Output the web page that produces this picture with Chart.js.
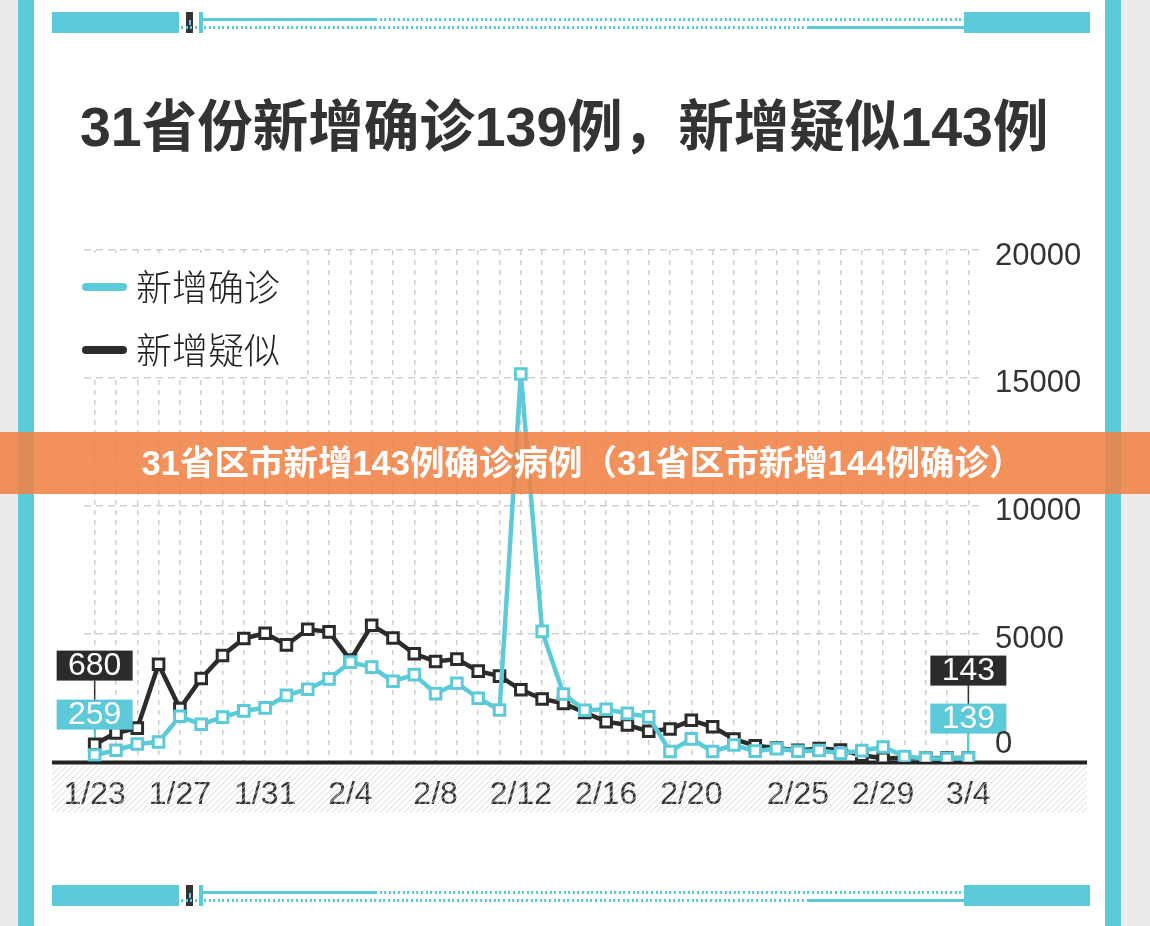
<!DOCTYPE html>
<html>
<head>
<meta charset="utf-8">
<script src="https://cdn.jsdelivr.net/npm/chart.js@4.4.1/dist/chart.umd.min.js"></script>
<style>
  body { margin: 0; width: 1150px; height: 926px; overflow: hidden; position: relative; background: #ebebeb;
         font-family: "Liberation Sans", "Noto Sans CJK SC", sans-serif; }
  .panel { position: absolute; left: 33px; top: 0; width: 1072px; height: 926px; background: #fff; }
  .edge { position: absolute; top: 0; width: 16px; height: 926px; background: #5ccad9; }
  .blk { position: absolute; background: #5ccad9; }
  .dark { position: absolute; background: #333; }
  .dots { position: absolute; height: 3px;
          background: repeating-linear-gradient(90deg, #5ccad9 0 2px, transparent 2px 4.6px); }
  .title { position: absolute; left: 80px; top: 94px; font-size: 55.5px; font-weight: bold; color: #333;
           line-height: 66px; white-space: nowrap; }
  .banner { position: absolute; left: 0; top: 432px; width: 1150px; height: 62px; background: rgba(240,130,70,0.88);
            color: #fff; font: bold 34.5px "Liberation Sans", "Noto Sans CJK SC", sans-serif; line-height: 62px;
            text-align: center; z-index: 5; white-space: nowrap; box-sizing: border-box; padding-left: 15px; }
  canvas { position: absolute; left: 0; top: 0; }
</style>
</head>
<body>
<div class="panel"></div>
<div class="edge" style="left:18px"></div>
<div class="edge" style="left:1105px"></div>
<div id="deco"></div>
<div class="title">31省份新增确诊139例，新增疑似143例</div>
<canvas id="c" width="1150" height="926"></canvas>
<div class="banner">31省区市新增143例确诊病例（31省区市新增144例确诊）</div>
<script>
// 数据：每日新增确诊 / 新增疑似
const days = ['1/23','1/24','1/25','1/26','1/27','1/28','1/29','1/30','1/31',
  '2/1','2/2','2/3','2/4','2/5','2/6','2/7','2/8','2/9','2/10','2/11','2/12','2/13','2/14','2/15',
  '2/16','2/17','2/18','2/19','2/20','2/21','2/22','2/23','2/24','2/25','2/26','2/27','2/28','2/29',
  '3/1','3/2','3/3','3/4'];
const shownDays = ['1/23','1/27','1/31','2/4','2/8','2/12','2/16','2/20','2/25','2/29','3/4'];
const confirmed = [259,444,688,769,1771,1459,1737,1982,2102,
  2590,2829,3235,3887,3694,3143,3399,2656,3062,2478,2015,15152,5090,2641,2009,
  2048,1886,1749,394,889,397,648,409,508,406,433,327,427,573,
  202,125,119,139];
const suspected = [680,1118,1309,3806,2077,3248,4148,4812,5019,
  4562,5173,5072,3971,5328,4833,4214,3916,4008,3536,3342,2807,2450,2277,1918,
  1563,1432,1185,1277,1614,1361,882,620,530,439,508,452,248,132,
  141,129,143,143];
const yTicks = [0, 5000, 10000, 15000, 20000];
const seriesNames = ['新增确诊', '新增疑似'];

const TEAL = '#5ccad9';
const BLACK = '#2b2b2b';
const GRID = '#cfcfcf';

/* 上下两条装饰条 */
function strip(y) {
  const d = document.getElementById('deco');
  const add = (cls, css) => { const e = document.createElement('div'); e.className = cls; e.style.cssText = css; d.appendChild(e); };
  add('blk', `left:52px;top:${y}px;width:127px;height:21px`);
  add('blk', `left:964px;top:${y}px;width:126px;height:21px`);
  add('dark', `left:186px;top:${y}px;width:7px;height:21px`);
  add('blk', `left:189px;top:${y + 8}px;width:2px;height:5px`);
  add('blk', `left:199px;top:${y}px;width:4px;height:21px`);
  add('blk', `left:203px;top:${y + 6}px;width:172px;height:3px`);
  add('dots', `left:375px;top:${y + 6}px;width:589px`);
  add('dots', `left:181px;top:${y + 14}px;width:627px`);
  add('blk', `left:808px;top:${y + 14}px;width:156px;height:3px`);
}
strip(12);
strip(885);

const decor = {
  id: 'decor',
  beforeDatasetsDraw(chart) {
    const { ctx, chartArea: a, scales: { x, y } } = chart;
    ctx.save();
    // 图例区域盖住竖向网格
    ctx.fillStyle = '#fff';
    ctx.fillRect(a.left - 6, a.top + 3, 222, y.getPixelForValue(15000) - a.top - 5);
    [[TEAL, 287], [BLACK, 350]].forEach(([col, ly], i) => {
      ctx.strokeStyle = col; ctx.lineWidth = 8; ctx.lineCap = 'round';
      ctx.beginPath(); ctx.moveTo(86, ly); ctx.lineTo(123, ly); ctx.stroke();
      ctx.fillStyle = '#222';
      ctx.font = '300 36px "Noto Sans CJK SC"';
      ctx.textBaseline = 'middle';
      ctx.fillText(seriesNames[i], 136, ly);
    });
    // 斜线底纹 + 基线
    const by = y.getPixelForValue(0) + 1;
    ctx.save();
    ctx.beginPath(); ctx.rect(52, by + 3, 1035, 47); ctx.clip();
    ctx.strokeStyle = '#d6d6d6'; ctx.lineWidth = 1; ctx.lineCap = 'butt';
    for (let sx = 0; sx < 1150; sx += 6) {
      ctx.beginPath(); ctx.moveTo(sx, by + 52); ctx.lineTo(sx + 50, by + 2); ctx.stroke();
    }
    ctx.restore();
    ctx.strokeStyle = '#222'; ctx.lineWidth = 4; ctx.lineCap = 'butt';
    ctx.beginPath(); ctx.moveTo(52, by); ctx.lineTo(1087, by); ctx.stroke();
    // 标注连线
    const bottom = y.getPixelForValue(0);
    const m0 = chart.getDatasetMeta(0).data, m1 = chart.getDatasetMeta(1).data;
    [[0, bottom - 81, bottom - 62], [days.length - 1, bottom - 77, bottom - 58]].forEach(([i, blackBottom, tealTop]) => {
      const px = x.getPixelForValue(i);
      ctx.lineWidth = 1.5;
      ctx.strokeStyle = '#333';
      ctx.beginPath(); ctx.moveTo(px, blackBottom); ctx.lineTo(px, m1[i].y); ctx.stroke();
      ctx.strokeStyle = TEAL;
      ctx.beginPath(); ctx.moveTo(px, tealTop + 30); ctx.lineTo(px, m0[i].y); ctx.stroke();
    });
    ctx.restore();
  },
  afterDatasetsDraw(chart) {
    const { ctx, scales: { x, y } } = chart;
    const bottom = y.getPixelForValue(0);
    ctx.save();
    ctx.font = '32px "Liberation Sans"';
    ctx.textAlign = 'center'; ctx.textBaseline = 'middle';
    [[0, bottom - 111, bottom - 62], [days.length - 1, bottom - 106, bottom - 58]].forEach(([i, bTop, tTop]) => {
      const px = x.getPixelForValue(i);
      ctx.fillStyle = BLACK; ctx.fillRect(px - 38, bTop, 76, 30);
      ctx.fillStyle = '#fff'; ctx.fillText(String(suspected[i]), px, bTop + 16);
      ctx.fillStyle = TEAL; ctx.fillRect(px - 38, tTop, 76, 30);
      ctx.fillStyle = '#fff'; ctx.fillText(String(confirmed[i]), px, tTop + 16);
    });
    // 右侧纵轴刻度
    ctx.fillStyle = '#333';
    ctx.font = '31px "Liberation Sans"';
    ctx.textAlign = 'left';
    yTicks.forEach(v => {
      const py = y.getPixelForValue(v) + (v === 0 ? -17 : 6);
      ctx.fillText(String(v), 995, py);
    });
    ctx.restore();
  }
};

const pointStyle = col => ({
  borderColor: col, borderWidth: 4.5, pointStyle: 'rect', pointRadius: 7.5,
  pointBackgroundColor: '#fff', pointBorderColor: col, pointBorderWidth: 3, tension: 0, fill: false
});

new Chart(document.getElementById('c'), {
  type: 'line',
  data: {
    labels: days,
    datasets: [
      Object.assign({ label: seriesNames[0], data: confirmed }, pointStyle(TEAL)),
      Object.assign({ label: seriesNames[1], data: suspected }, pointStyle(BLACK)),
    ],
  },
  options: {
    responsive: false, animation: false, devicePixelRatio: 1,
    layout: { padding: { left: 84, right: 171, top: 250, bottom: 98 } },
    plugins: { legend: { display: false }, tooltip: { enabled: false } },
    scales: {
      x: {
        type: 'category', offset: true,
        grid: { offset: false, color: GRID, lineWidth: 1.5, drawTicks: false },
        border: { display: false, dash: [5, 5] },
        ticks: {
          autoSkip: false, maxRotation: 0, padding: 14, color: '#333',
          font: { size: 32, family: '"Liberation Sans", sans-serif' },
          callback: (v, i) => shownDays.includes(days[i]) ? days[i] : '',
        },
      },
      y: {
        min: 0, max: 20000,
        ticks: { display: false, stepSize: 5000 },
        grid: { drawTicks: false, lineWidth: 1.5,
          color: c => (c.tick && c.tick.value === 0) ? 'rgba(0,0,0,0)' : GRID },
        border: { display: false, dash: [7, 5] },
      },
    },
  },
  plugins: [decor],
});
</script>
</body>
</html>
